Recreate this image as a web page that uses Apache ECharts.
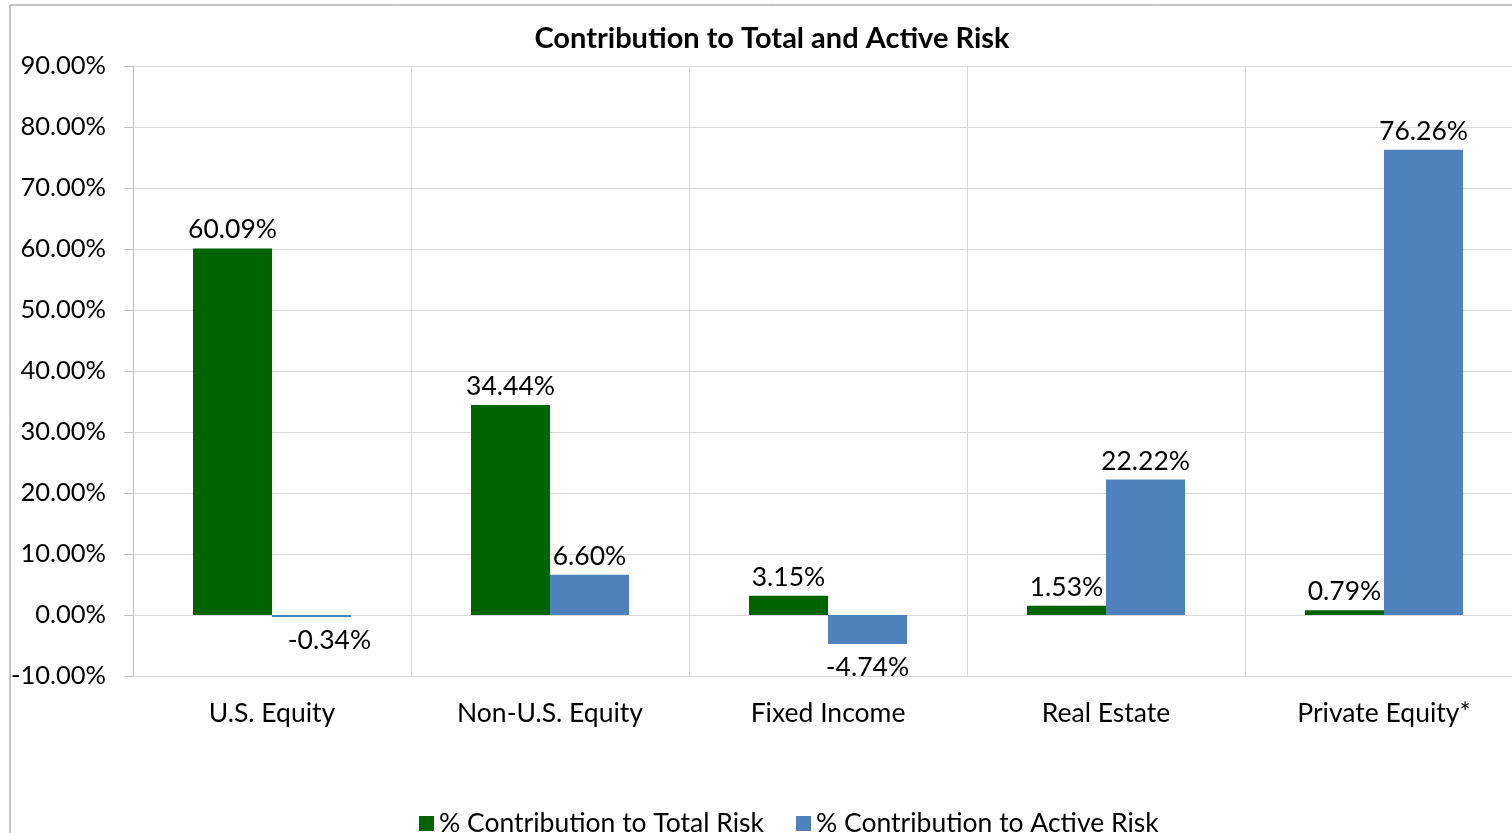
<!DOCTYPE html>
<html>
<head>
<meta charset="utf-8">
<script src="https://cdn.jsdelivr.net/npm/echarts@6/dist/echarts.min.js"></script>
<style>
  html, body { margin: 0; padding: 0; background: #fff; overflow: hidden; }
  /* the original chart is cut off on the right, so the canvas is a bit wider than the window */
  #chart { width: 1540px; height: 833px; }
</style>
</head>
<body>
<div id="chart"></div>
<script>
// categories and values (percent)
var categories = ["U.S. Equity", "Non-U.S. Equity", "Fixed Income", "Real Estate", "Private Equity*"];
var totalRisk = [60.09, 34.44, 3.15, 1.53, 0.79];
var activeRisk = [-0.34, 6.60, -4.74, 22.22, 76.26];
var seriesNames = ["% Contribution to Total Risk", "% Contribution to Active Risk"];

var FONT = "Lato, 'Open Sans', sans-serif";
var FS = 26.5;

var chart = echarts.init(document.getElementById("chart"));

function pct(v) {
  return v.toFixed(2) + "%";
}

function labelOpt() {
  return {
    show: true,
    fontFamily: FONT,
    fontSize: FS,
    color: "#000",
    distance: 5,
    position: "top",
    formatter: function (p) { return pct(p.value); }
  };
}

function makeData(arr) {
  // negative values get their label under the bar
  return arr.map(function (v, i) {
    var d = { value: v };
    if (v < 0) {
      d.label = { position: "bottom", distance: 10 };
      // the small U.S. Equity label sits a bit right of its bar in the original
      if (i === 0) d.label.offset = [18, 0];
    }
    return d;
  });
}

var option = {
  animation: false,
  backgroundColor: "#fff",
  title: {
    text: "Contribution to Total and Active Risk",
    left: 767,
    top: 19,
    textAlign: "center",
    textStyle: { fontFamily: FONT, fontSize: 29, fontWeight: "bold", color: "#000" }
  },
  graphic: [{
    type: "rect",
    shape: { x: 10, y: 5, width: 1560, height: 860 },
    style: { fill: "none", stroke: "#8c8c8c", lineWidth: 1 },
    z: -1
  }],
  legend: {
    data: seriesNames,
    left: 414,
    top: 805,
    itemWidth: 15,
    itemHeight: 15,
    itemGap: 32,
    icon: "rect",
    textStyle: { fontFamily: FONT, fontSize: FS, color: "#000" }
  },
  grid: { left: 133, top: 66, width: 1390, height: 610 },
  xAxis: {
    type: "category",
    data: categories,
    axisLine: { show: false, onZero: false },
    axisTick: { show: false },
    splitLine: { show: true, lineStyle: { color: "#d9d9d9", width: 1 } },
    axisLabel: { margin: 24, fontFamily: FONT, fontSize: FS, color: "#000" }
  },
  yAxis: {
    type: "value",
    min: -10,
    max: 90,
    interval: 10,
    axisLine: { show: true, lineStyle: { color: "#bfbfbf" } },
    axisTick: { show: true, length: 9, lineStyle: { color: "#bfbfbf" } },
    splitLine: { lineStyle: { color: "#d9d9d9", width: 1 } },
    axisLabel: {
      margin: 27,
      fontFamily: FONT,
      fontSize: 25.5,
      color: "#000",
      formatter: function (v) { return pct(v); }
    }
  },
  series: [
    {
      name: seriesNames[0],
      type: "bar",
      data: makeData(totalRisk),
      barWidth: 79,
      barGap: "0%",
      itemStyle: { color: "#006400" },
      label: labelOpt()
    },
    {
      name: seriesNames[1],
      type: "bar",
      data: makeData(activeRisk),
      barWidth: 79,
      barGap: "0%",
      itemStyle: { color: "#4f81bd" },
      label: labelOpt()
    }
  ]
};

chart.setOption(option);
</script>
</body>
</html>
